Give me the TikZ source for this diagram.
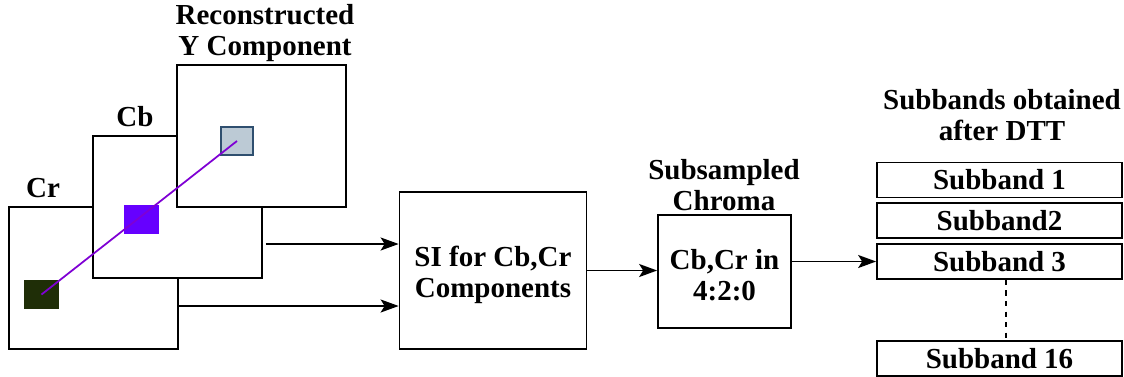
\documentclass[tikz,border=0pt]{standalone}
\usepackage{fontspec}
\setmainfont{Liberation Serif}
\usepackage{tikz}
\usetikzlibrary{arrows.meta}
\definecolor{crfill}{HTML}{1F2E07}
\definecolor{cbfill}{HTML}{6600FF}
\definecolor{yfill}{HTML}{BCCAD5}
\definecolor{ydraw}{HTML}{2F4F6F}
\definecolor{linkline}{HTML}{7F00D4}

\begin{document}
\begin{tikzpicture}[x=0.02cm,y=-0.02cm,line width=1pt,
  font=\fontsize{16.5}{17.6}\selectfont\bfseries,
  plane/.style={draw,fill=white,minimum width=3.38cm,minimum height=2.84cm,inner sep=0},
  pix/.style={draw,inner sep=0,line width=0.6pt,minimum width=0.66cm,minimum height=0.54cm},
  block/.style={draw,align=center,inner sep=0,text depth=-0.12cm},
  band/.style={draw,minimum width=4.9cm,minimum height=0.7cm,inner sep=0},
  lbl/.style={align=center,inner sep=0},
  arr/.style={-{Stealth[length=0.36cm,width=0.26cm,inset=0.08cm]}}]
  \useasboundingbox (0,0) rectangle (1124,376);
  \node[plane] (cr) at (93.5,278) {};
  \node[plane] (cb) at (177.5,207) {};
  \node[plane] (yc) at (261.5,136) {};
  \node[pix,fill=crfill,draw=crfill] (crsq) at (41.5,294.5) {};
  \node[pix,fill=cbfill,draw=cbfill] (cbsq) at (141.5,219.5) {};
  \node[pix,fill=yfill,draw=ydraw,minimum width=0.64cm,minimum height=0.56cm] (ysq) at (237,141) {};
  \draw[linkline,line width=1pt] (crsq.center) -- (ysq.center);
  \node[lbl] (crlbl) at (43,188) {Cr};
  \node[lbl] (cblbl) at (135,117) {Cb};
  \node[lbl] (ylbl) at (265,33) {Reconstructed\\Y Component};

  \node[draw,minimum width=3.74cm,minimum height=3.14cm] (si) at (493,270.5) {};
  \node[lbl] (sitxt) at (493,275) {SI for Cb,Cr\\Components};
  \node[draw,minimum width=2.66cm,minimum height=2.26cm] (sub) at (724.5,271.5) {};
  \node[lbl] (subtxt) at (724.5,275) {Cb,Cr in\\4:2:0};
  \node[lbl] (sublbl) at (724,185) {Subsampled\\Chroma};

  \node[band] (sb1) at (999.5,180) {Subband 1};
  \node[band] (sb2) at (999.5,220.5) {Subband2};
  \node[band] (sb3) at (999.5,261.5) {Subband 3};
  \node[band] (sb16) at (999.5,358.5) {Subband 16};
  \node[lbl] (sblbl) at (1002,115) {Subbands obtained\\after DTT};

  \draw[arr] ([xshift=0.06cm,yshift=-0.74cm]cb.east) coordinate (a1) -- (a1 -| si.west);
  \draw[arr] ([yshift=-0.56cm]cr.east) coordinate (a2) -- (a2 -| si.west);
  \draw[arr] (si.east) -- (si.east -| sub.west);
  \draw[arr] (sb3.west -| sub.east) -- (sb3.west);
  \draw[dashed] ([xshift=0.13cm]sb3.south) -- ([xshift=0.13cm]sb16.north);
\end{tikzpicture}
\end{document}
